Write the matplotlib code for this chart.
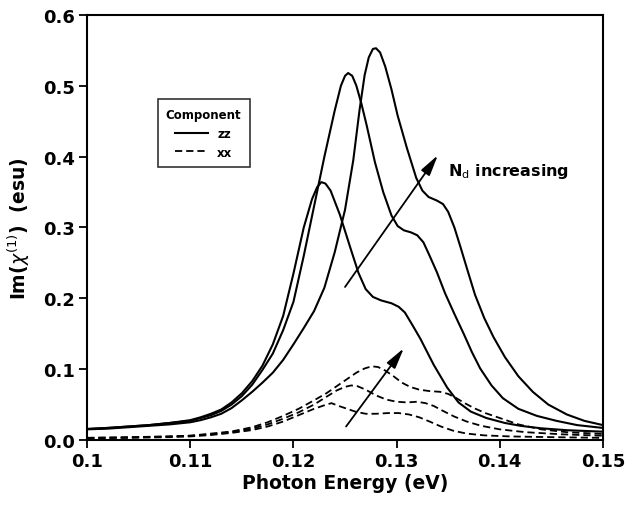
import numpy as np
import matplotlib
matplotlib.use("Agg")
import matplotlib.pyplot as plt
from matplotlib.lines import Line2D

# zz component, three doping levels (low -> high)
e_zz1 = [0.100, 0.102, 0.104, 0.106, 0.108, 0.110, 0.111, 0.112, 0.113, 0.114,
         0.115, 0.116, 0.117, 0.118, 0.119, 0.120, 0.121, 0.1218, 0.1223, 0.1227,
         0.1231, 0.1236, 0.1245, 0.1255, 0.1263, 0.1270, 0.1277, 0.1285, 0.1295, 0.1302,
         0.1308, 0.1315, 0.1323, 0.1336, 0.1349, 0.1360, 0.1372, 0.1387, 0.1405, 0.1420,
         0.1440, 0.1465, 0.150]
zz1 = [0.0155, 0.017, 0.019, 0.021, 0.024, 0.028, 0.032, 0.037, 0.043, 0.053,
       0.066, 0.083, 0.105, 0.135, 0.175, 0.235, 0.300, 0.340, 0.357, 0.364,
       0.362, 0.352, 0.318, 0.272, 0.236, 0.213, 0.202, 0.197, 0.193, 0.188,
       0.180, 0.163, 0.143, 0.106, 0.074, 0.053, 0.040, 0.031, 0.024, 0.020,
       0.0165, 0.0138, 0.0117]

e_zz2 = [0.100, 0.102, 0.104, 0.106, 0.108, 0.110, 0.111, 0.112, 0.113, 0.114,
         0.115, 0.116, 0.117, 0.118, 0.119, 0.120, 0.121, 0.122, 0.123, 0.124,
         0.1246, 0.1250, 0.1253, 0.1257, 0.1261, 0.1266, 0.1271, 0.1279, 0.1287, 0.1295,
         0.1301, 0.1307, 0.1314, 0.1320, 0.1326, 0.1332, 0.1339, 0.1347, 0.1356, 0.1365,
         0.1373, 0.1381, 0.1392, 0.1403, 0.1418, 0.1436, 0.1455, 0.1475, 0.150]
zz2 = [0.0155, 0.017, 0.019, 0.021, 0.024, 0.027, 0.031, 0.035, 0.041, 0.050,
       0.062, 0.078, 0.099, 0.122, 0.155, 0.195, 0.260, 0.330, 0.400, 0.465,
       0.500, 0.514, 0.518, 0.514, 0.500, 0.474, 0.444, 0.392, 0.350, 0.317,
       0.302, 0.296, 0.293, 0.289, 0.279, 0.260, 0.237, 0.207, 0.178, 0.150,
       0.124, 0.101, 0.077, 0.059, 0.044, 0.034, 0.027, 0.021, 0.017]

e_zz3 = [0.100, 0.102, 0.104, 0.106, 0.108, 0.110, 0.111, 0.112, 0.113, 0.114,
         0.115, 0.116, 0.117, 0.118, 0.119, 0.120, 0.121, 0.122, 0.123, 0.124,
         0.125, 0.1258, 0.1264, 0.1269, 0.1273, 0.1277, 0.1280, 0.1284, 0.1289, 0.1295,
         0.1301, 0.1310, 0.1319, 0.1325, 0.1331, 0.1339, 0.1345, 0.1350, 0.1356, 0.1362,
         0.1368, 0.1376, 0.1385, 0.1394, 0.1405, 0.1418, 0.1432, 0.1447, 0.1465, 0.1482,
         0.150]
zz3 = [0.015, 0.016, 0.018, 0.020, 0.022, 0.025, 0.028, 0.032, 0.037, 0.045,
       0.056, 0.068, 0.081, 0.095, 0.113, 0.135, 0.158, 0.182, 0.215, 0.265,
       0.325, 0.395, 0.465, 0.515, 0.540, 0.552, 0.553, 0.547, 0.527, 0.495,
       0.458, 0.412, 0.370, 0.352, 0.343, 0.338, 0.333, 0.322, 0.300, 0.272,
       0.243, 0.205, 0.172, 0.145, 0.117, 0.090, 0.068, 0.050, 0.036, 0.027,
       0.021]

# xx component, same doping levels
e_xx1 = [0.100, 0.104, 0.108, 0.110, 0.112, 0.114, 0.116, 0.1175, 0.119, 0.1205,
         0.122, 0.1232, 0.1237, 0.1242, 0.1250, 0.1260, 0.1270, 0.1280, 0.1292, 0.1302,
         0.1312, 0.1322, 0.1332, 0.1343, 0.1355, 0.1368, 0.1385, 0.141, 0.145, 0.150]
xx1 = [0.0025, 0.003, 0.004, 0.005, 0.007, 0.010, 0.014, 0.019, 0.026, 0.035,
       0.044, 0.050, 0.052, 0.049, 0.045, 0.040, 0.037, 0.037, 0.038, 0.038,
       0.036, 0.032, 0.026, 0.019, 0.013, 0.009, 0.0065, 0.005, 0.004, 0.003]

e_xx2 = [0.100, 0.104, 0.108, 0.110, 0.112, 0.114, 0.116, 0.1175, 0.119, 0.1205,
         0.122, 0.1232, 0.1242, 0.1250, 0.1256, 0.1262, 0.1270, 0.1280, 0.1290, 0.1300,
         0.1310, 0.1320, 0.1328, 0.1336, 0.1345, 0.1356, 0.1368, 0.1382, 0.1400, 0.1425,
         0.1460, 0.150]
xx2 = [0.003, 0.0035, 0.005, 0.006, 0.008, 0.011, 0.016, 0.022, 0.030, 0.039,
       0.050, 0.061, 0.070, 0.075, 0.077, 0.076, 0.071, 0.063, 0.057, 0.054,
       0.053, 0.054, 0.052, 0.048, 0.041, 0.033, 0.026, 0.020, 0.015, 0.011,
       0.008, 0.006]

e_xx3 = [0.100, 0.104, 0.108, 0.110, 0.112, 0.114, 0.116, 0.1175, 0.119, 0.1205,
         0.122, 0.1232, 0.1242, 0.1252, 0.1261, 0.1269, 0.1276, 0.1282, 0.1289, 0.1297,
         0.1305, 0.1313, 0.1322, 0.1332, 0.1342, 0.1350, 0.1358, 0.1366, 0.1375, 0.1386,
         0.1400, 0.1418, 0.1440, 0.1465, 0.150]
xx3 = [0.003, 0.004, 0.005, 0.006, 0.009, 0.012, 0.018, 0.025, 0.034, 0.044,
       0.056, 0.066, 0.076, 0.086, 0.095, 0.101, 0.104, 0.103, 0.098, 0.090,
       0.081, 0.075, 0.071, 0.069, 0.068, 0.065, 0.059, 0.052, 0.045, 0.038,
       0.031, 0.022, 0.015, 0.011, 0.0085]

xticks = [0.1, 0.11, 0.12, 0.13, 0.14, 0.15]
xtick_labels = ["0.1", "0.11", "0.12", "0.13", "0.14", "0.15"]
yticks = [0.0, 0.1, 0.2, 0.3, 0.4, 0.5, 0.6]

plt.rcParams['font.family'] = 'DejaVu Sans'
plt.rcParams['mathtext.fontset'] = 'dejavusans'

fig = plt.figure(figsize=(6.36, 5.06), dpi=100)
ax = fig.add_axes([0.137, 0.1285, 0.811, 0.84])

for e, v in [(e_zz1, zz1), (e_zz2, zz2), (e_zz3, zz3)]:
    ax.plot(e, v, color='black', lw=1.5, solid_joinstyle='round')
for e, v in [(e_xx1, xx1), (e_xx2, xx2), (e_xx3, xx3)]:
    ax.plot(e, v, color='black', lw=1.3, linestyle=(0, (4, 2.2)))

ax.set_xlim(0.1, 0.15)
ax.set_ylim(0.0, 0.6)
ax.set_xticks(xticks)
ax.set_xticklabels(xtick_labels)
ax.set_yticks(yticks)
ax.set_yticklabels(["%.1f" % t for t in yticks])
ax.tick_params(direction='out', length=6, width=1.3, labelsize=13, pad=3)
for lab in ax.get_xticklabels() + ax.get_yticklabels():
    lab.set_fontweight('bold')
for s in ax.spines.values():
    s.set_linewidth(1.5)

ax.set_xlabel("Photon Energy (eV)", fontsize=13.5, fontweight='bold', labelpad=2)
ax.set_ylabel(r"Im($\chi^{(1)}$)  (esu)", fontsize=13.5, fontweight='bold', labelpad=8)

arrow = dict(arrowstyle='-|>,head_length=0.9,head_width=0.22', color='black',
             lw=1.3, mutation_scale=14, shrinkA=0, shrinkB=0)
ax.annotate('', xy=(0.1340, 0.402), xytext=(0.1250, 0.216), arrowprops=arrow)
ax.annotate('', xy=(0.1307, 0.1295), xytext=(0.1251, 0.019), arrowprops=arrow)
ax.text(0.1350, 0.380, r"N$_\mathrm{d}$ increasing", fontsize=11.5, fontweight='bold',
        ha='left', va='center')

handles = [Line2D([], [], color='black', lw=1.5),
           Line2D([], [], color='black', lw=1.3, linestyle=(0, (4, 2.2)))]
leg = ax.legend(handles, ["zz", "xx"], title="Component", loc='upper left',
                bbox_to_anchor=(0.125, 0.815), frameon=True, fancybox=False,
                edgecolor='black', fontsize=8.5, title_fontsize=8.5,
                handlelength=2.8, borderpad=0.7, labelspacing=0.5)
leg.get_frame().set_linewidth(1.2)
leg.get_title().set_fontweight('bold')
for t in leg.get_texts():
    t.set_fontweight('bold')

fig.savefig("out.png", dpi=100)
